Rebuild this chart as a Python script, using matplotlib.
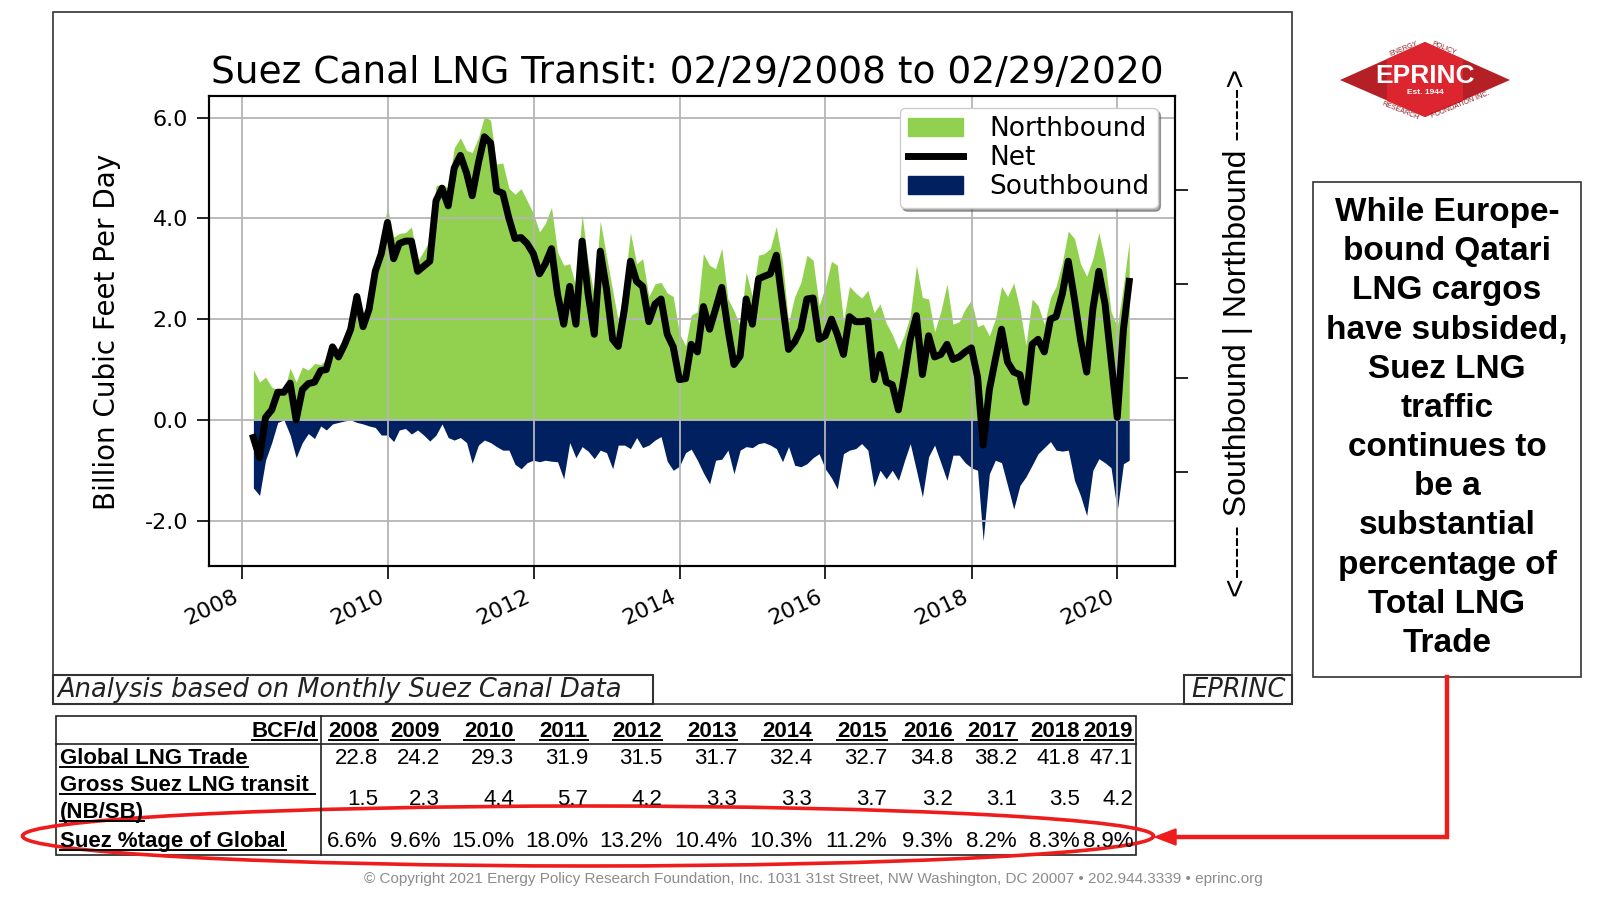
import datetime as dt

import pandas as pd
import matplotlib
matplotlib.use("Agg")
import matplotlib.pyplot as plt
import matplotlib.dates as mdates
from matplotlib.patches import Patch, Rectangle, Ellipse, Polygon
from matplotlib.lines import Line2D
from matplotlib.ticker import FormatStrFormatter

# monthly Suez Canal LNG flows, Bcf/d, Feb 2008 .. Feb 2020
net = [-0.35, -0.75, 0.05, 0.2, 0.55, 0.55, 0.73, 0.0, 0.6, 0.72,
       0.75, 0.98, 1.0, 1.45, 1.25, 1.5, 1.8, 2.45, 1.85, 2.2,
       2.95, 3.3, 3.92, 3.2, 3.5, 3.55, 3.55, 2.95, 3.05, 3.15,
       4.35, 4.6, 4.25, 5.0, 5.25, 4.9, 4.45, 5.1, 5.62, 5.5,
       4.55, 4.5, 4.0, 3.6, 3.62, 3.5, 3.3, 2.9, 3.1, 3.4,
       2.5, 1.9, 2.65, 1.9, 3.55, 2.5, 1.7, 3.35, 2.6, 1.6,
       1.46, 2.2, 3.15, 2.75, 2.65, 1.95, 2.3, 2.4, 1.7, 1.45,
       0.8, 0.82, 1.5, 1.35, 2.25, 1.8, 2.2, 2.63, 1.8, 1.1,
       1.27, 2.4, 1.9, 2.8, 2.85, 2.9, 3.27, 2.3, 1.4, 1.55,
       1.8, 2.4, 2.42, 1.6, 1.67, 2.0, 1.7, 1.3, 2.05, 1.95,
       1.95, 1.97, 0.8, 1.3, 0.75, 0.7, 0.2, 0.9, 1.6, 2.07,
       0.9, 1.67, 1.25, 1.3, 1.5, 1.2, 1.25, 1.35, 1.43, 0.85,
       -0.5, 0.6, 1.2, 1.8, 1.15, 0.95, 0.9, 0.35, 1.5, 1.6,
       1.35, 2.0, 2.05, 2.5, 3.15, 2.4, 1.6, 0.95, 2.2, 2.95,
       2.3, 1.2, 0.05, 1.8, 2.75]

southbound = [-1.35, -1.5, -0.8, -0.45, -0.05, 0.0, -0.3, -0.75, -0.45, -0.27,
              -0.37, -0.12, -0.2, -0.08, -0.05, -0.02, 0.0, -0.05, -0.08, -0.12,
              -0.15, -0.3, -0.3, -0.43, -0.2, -0.17, -0.28, -0.2, -0.3, -0.42,
              -0.3, -0.08, -0.35, -0.4, -0.35, -0.45, -0.86, -0.5, -0.4, -0.45,
              -0.53, -0.6, -0.6, -0.88, -0.97, -0.85, -0.8, -0.83, -0.8, -0.82,
              -0.83, -1.17, -0.45, -0.75, -0.53, -0.62, -0.77, -0.6, -0.65, -0.97,
              -0.5, -0.5, -0.57, -0.35, -0.55, -0.5, -0.4, -0.33, -0.82, -1.0,
              -0.92, -0.65, -0.58, -0.8, -1.05, -1.27, -0.8, -0.78, -0.6, -1.07,
              -0.6, -0.53, -0.55, -0.47, -0.45, -0.5, -0.57, -0.83, -0.53, -0.9,
              -0.93, -0.87, -0.75, -0.67, -0.97, -1.15, -1.37, -0.67, -0.6, -0.57,
              -0.47, -0.6, -1.33, -1.0, -1.17, -1.0, -1.2, -0.8, -0.47, -1.0,
              -1.53, -0.73, -0.5, -0.85, -1.2, -0.7, -0.7, -0.85, -0.95, -1.0,
              -2.4, -1.07, -0.8, -0.85, -1.3, -1.77, -1.3, -1.13, -0.9, -0.67,
              -0.55, -0.43, -0.6, -0.62, -0.6, -1.2, -1.5, -1.9, -1.0, -0.77,
              -0.85, -0.95, -1.8, -0.87, -0.8]

# table under the chart
years = ["2008", "2009", "2010", "2011", "2012", "2013", "2014", "2015",
         "2016", "2017", "2018", "2019"]
global_lng = ["22.8", "24.2", "29.3", "31.9", "31.5", "31.7", "32.4", "32.7",
              "34.8", "38.2", "41.8", "47.1"]
gross_suez = ["1.5", "2.3", "4.4", "5.7", "4.2", "3.3", "3.3", "3.7",
              "3.2", "3.1", "3.5", "4.2"]
suez_share = ["6.6%", "9.6%", "15.0%", "18.0%", "13.2%", "10.4%", "10.3%", "11.2%",
              "9.3%", "8.2%", "8.3%", "8.9%"]

side_note = ("While Europe-\nbound Qatari\nLNG cargos\nhave subsided,\nSuez LNG\ntraffic\n"
             "continues to\nbe a\nsubstantial\npercentage of\nTotal LNG\nTrade")

GREEN = "#92d050"
NAVY = "#002060"
RED = "#ee1c1c"

W, H = 1600, 900


def fx(x):
    return x / W


def fy(y):
    return 1 - y / H


df = pd.DataFrame({"net": net, "south": southbound},
                  index=pd.date_range("2008-02-29", periods=len(net), freq="ME"))
df["north"] = df["net"] - df["south"]

plt.rcParams["axes.unicode_minus"] = False
fig = plt.figure(figsize=(16, 9), dpi=100)

# ---- main chart ----
ax = fig.add_axes([fx(209), fy(566), fx(1175) - fx(209), fy(96) - fy(566)])
ax.fill_between(df.index, 0, df["north"], color=GREEN, lw=0)
ax.fill_between(df.index, df["south"], 0, color=NAVY, lw=0)
ax.plot(df.index, df["net"], color="black", lw=5, zorder=3)

ax.set_xlim(dt.datetime(2007, 7, 22), dt.datetime(2020, 10, 15))
ax.set_ylim(-2.9, 6.43)
ax.set_yticks([-2, 0, 2, 4, 6])
ax.yaxis.set_major_formatter(FormatStrFormatter("%.1f"))
ax.xaxis.set_major_locator(mdates.YearLocator(2))
ax.xaxis.set_major_formatter(mdates.DateFormatter("%Y"))
ax.grid(True, color="#b5b5b5", lw=1.3)
ax.set_axisbelow(False)
ax.tick_params(direction="out", length=9, width=1.2, labelsize=16, pad=6,
               right=False, top=False)
plt.setp(ax.get_xticklabels(), rotation=25, ha="right")
for s in ax.spines.values():
    s.set_linewidth(1.5)

ax2 = ax.twinx()
ax2.set_ylim(0, 1)
ax2.set_yticks([0.2, 0.4, 0.6, 0.8])
ax2.tick_params(labelright=False, direction="out", length=9, width=1.2)
for s in ax2.spines.values():
    s.set_linewidth(1.5)

handles = [Patch(color=GREEN, label="Northbound"),
           Line2D([], [], color="black", lw=5, label="Net"),
           Patch(color=NAVY, label="Southbound")]
leg = ax2.legend(handles=handles, loc="upper right", bbox_to_anchor=(0.982, 0.974),
                 borderaxespad=0, fontsize=19, shadow=True, labelspacing=0.12,
                 handlelength=2.1, handletextpad=1.0, borderpad=0.3)
leg.get_frame().set_edgecolor("#cccccc")

fig.text(fx(687), fy(73), "Suez Canal LNG Transit: 02/29/2008 to 02/29/2020",
         fontsize=27, ha="center", va="center")
fig.text(fx(107), fy(332), "Billion Cubic Feet Per Day", fontsize=20,
         rotation=90, ha="center", va="center")
fig.text(fx(1238), fy(333), "<----- Southbound | Northbound ----->",
         family="Liberation Sans", fontsize=23, rotation=90, ha="center", va="center")

# frame around the chart image and its two captions
fig.add_artist(Rectangle((fx(53), fy(704)), fx(1292) - fx(53), fy(12) - fy(704),
                         transform=fig.transFigure, fill=False, ec="#333333", lw=1.2))
fig.add_artist(Rectangle((fx(53), fy(704)), fx(653) - fx(53), fy(675) - fy(704),
                         transform=fig.transFigure, fill=False, ec="#333333", lw=1.5))
fig.text(fx(57), fy(690), "Analysis based on Monthly Suez Canal Data",
         fontsize=18.5, style="italic", ha="left", va="center", color="#222222")
fig.add_artist(Rectangle((fx(1184), fy(704)), fx(1292) - fx(1184), fy(675) - fy(704),
                         transform=fig.transFigure, fill=False, ec="#333333", lw=1.5))
fig.text(fx(1239), fy(690), "EPRINC", fontsize=18.5, style="italic",
         ha="center", va="center", color="#222222")

# ---- logo ----
fig.add_artist(Polygon([(fx(1340), fy(80)), (fx(1425), fy(42)), (fx(1510), fy(80)),
                        (fx(1425), fy(117))], closed=True, transform=fig.transFigure,
                       fc="#b51f26", ec="none"))
fig.add_artist(Polygon([(fx(1387), fy(59)), (fx(1425), fy(42)), (fx(1463), fy(59)),
                        (fx(1463), fy(101)), (fx(1425), fy(117)), (fx(1387), fy(101))],
                       closed=True, transform=fig.transFigure, fc="#dd2530", ec="none"))
fig.text(fx(1425), fy(76), "EPRINC", family="Liberation Sans", fontweight="bold",
         fontsize=19, color="white", ha="center", va="center")
fig.text(fx(1425), fy(93), "Est. 1944", family="Liberation Sans", fontweight="bold",
         fontsize=6, color="white", ha="center", va="center")
for txt, x, y, rot in [("ENERGY", 1404, 49, 22), ("POLICY", 1444, 48, -22),
                       ("RESEARCH", 1400, 111, -22), ("FOUNDATION INC.", 1460, 105, 22)]:
    fig.text(fx(x), fy(y), txt, family="Liberation Sans", fontsize=5,
             color="#8a1a1f", rotation=rot, ha="center", va="center")

# ---- side note ----
fig.add_artist(Rectangle((fx(1313), fy(677)), fx(1581) - fx(1313), fy(182) - fy(677),
                         transform=fig.transFigure, fill=False, ec="#333333", lw=1.2))
fig.text(fx(1447), fy(428), side_note, family="Liberation Sans", fontweight="bold",
         fontsize=24, ha="center", va="center", linespacing=1.34, multialignment="center")

# ---- table ----
tab_font = dict(family="Liberation Sans", fontsize=16)
col_right = [378, 440, 514, 588, 662, 737, 812, 887, 953, 1017, 1080, 1133]
fig.add_artist(Rectangle((fx(56), fy(855)), fx(1136) - fx(56), fy(716) - fy(855),
                         transform=fig.transFigure, fill=False, ec="#222222", lw=1.2))
fig.add_artist(Line2D([fx(56), fx(1136)], [fy(744), fy(744)], transform=fig.transFigure,
                      color="#222222", lw=1.2))
fig.add_artist(Line2D([fx(321), fx(321)], [fy(716), fy(855)], transform=fig.transFigure,
                      color="#222222", lw=1.2))

underlined = []
underlined.append(fig.text(fx(317), fy(737), "BCF/d", ha="right", va="baseline",
                           fontweight="bold", **tab_font))
for xr, yr, g, s, p in zip(col_right, years, global_lng, gross_suez, suez_share):
    underlined.append(fig.text(fx(xr), fy(737), yr, ha="right", va="baseline",
                               fontweight="bold", **tab_font))
    fig.text(fx(xr), fy(764), g, ha="right", va="baseline", **tab_font)
    fig.text(fx(xr), fy(805), s, ha="right", va="baseline", **tab_font)
    fig.text(fx(xr), fy(847), p, ha="right", va="baseline", **tab_font)

for lbl, yb in [("Global LNG Trade", 764), ("Gross Suez LNG transit ", 791),
                ("(NB/SB)", 818), ("Suez %tage of Global", 847)]:
    underlined.append(fig.text(fx(60), fy(yb), lbl, ha="left", va="baseline",
                               fontweight="bold", **tab_font))

fig.canvas.draw()
renderer = fig.canvas.get_renderer()
for t in underlined:
    bb = t.get_window_extent(renderer)
    base = t.get_position()[1] * H - 3
    fig.add_artist(Line2D([bb.x0 / W, bb.x1 / W], [base / H, base / H],
                          transform=fig.transFigure, color="black", lw=1.4))

# ---- red highlight ----
fig.add_artist(Ellipse((fx(588), fy(836)), fx(1131) - fx(0), fy(0) - fy(60),
                       transform=fig.transFigure, fill=False, ec=RED, lw=2.6))
fig.add_artist(Line2D([fx(1447), fx(1447), fx(1172)], [fy(677), fy(837), fy(837)],
                      transform=fig.transFigure, color=RED, lw=3.2,
                      solid_joinstyle="miter"))
fig.add_artist(Polygon([(fx(1155), fy(837)), (fx(1176), fy(829)), (fx(1176), fy(845))],
                       closed=True, transform=fig.transFigure, fc=RED, ec=RED))

fig.text(fx(813), fy(879),
         "\u00a9 Copyright 2021 Energy Policy Research Foundation, Inc. 1031 31st Street, "
         "NW Washington, DC 20007 \u2022 202.944.3339 \u2022 eprinc.org",
         family="Liberation Sans", fontsize=11, color="#8c8c8c", ha="center", va="center")

fig.savefig("out.png", dpi=100)
